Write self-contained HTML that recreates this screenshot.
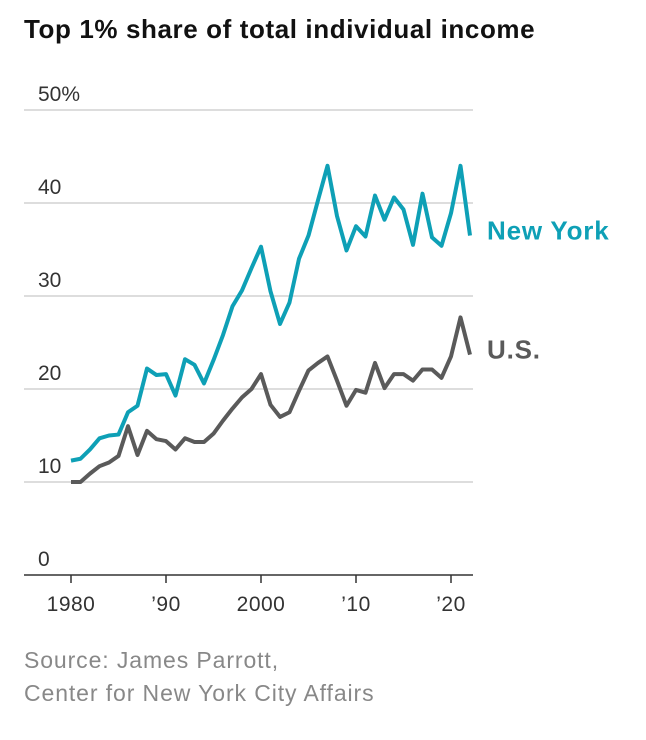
<!DOCTYPE html>
<html><head><meta charset="utf-8"><style>
body{margin:0;background:#fff;width:646px;height:740px;overflow:hidden;font-family:"Liberation Sans",sans-serif}
h1{position:absolute;left:24px;top:14px;margin:0;font-size:26px;font-weight:bold;color:#111;letter-spacing:0.6px}
.src{position:absolute;left:24px;top:644px;font-size:23px;color:#888;line-height:33px;letter-spacing:0.9px}
</style></head><body>
<h1>Top 1% share of total individual income</h1>
<svg id="c" width="646" height="740" style="position:absolute;left:0;top:0"></svg>
<div class="src">Source: James Parrott,<br>Center for New York City Affairs</div>
<script>
const years=[];for(let y=1980;y<=2022;y++)years.push(y);
const nyValues=[12.3,12.5,13.5,14.7,15.0,15.1,17.5,18.2,22.2,21.5,21.6,19.3,23.2,22.6,20.6,23.1,25.8,28.9,30.6,33.0,35.3,30.5,27.0,29.3,34.0,36.5,40.3,44.0,38.6,34.9,37.5,36.4,40.8,38.2,40.6,39.3,35.5,41.0,36.3,35.4,38.9,44.0,36.5];
const usValues=[10.0,10.0,10.9,11.7,12.1,12.8,16.0,12.9,15.5,14.6,14.4,13.5,14.7,14.3,14.3,15.2,16.6,17.9,19.1,20.0,21.6,18.3,17.0,17.5,19.8,22.0,22.8,23.5,20.9,18.2,19.9,19.6,22.8,20.1,21.6,21.6,20.9,22.1,22.1,21.2,23.5,27.7,23.7];
const yTicks=[0,10,20,30,40,50];
const yTickLabels=["0","10","20","30","40","50%"];
const xTicks=[1980,1990,2000,2010,2020];
const xTickLabels=["1980","’90","2000","’10","’20"];
const X=y=>71+(y-1980)*9.5;
const Y=v=>575-v*9.3;
const svg=document.getElementById('c');const NS='http://www.w3.org/2000/svg';
function mk(t,a){const e=document.createElementNS(NS,t);for(const k in a)e.setAttribute(k,a[k]);svg.appendChild(e);return e;}
yTicks.forEach((v,i)=>{
 const l=mk('line',{x1:24,x2:473,y1:Y(v),y2:Y(v),stroke:v===0?'#333':'#ddd','stroke-width':v===0?1.5:2});
 
 
 const t=mk('text',{x:38,y:Y(v)-9,'font-size':21,fill:'#333'});t.textContent=yTickLabels[i];
 
 
});
xTicks.forEach((v,i)=>{
 const l=mk('line',{x1:X(v),x2:X(v),y1:575,y2:583,stroke:'#333','stroke-width':1.5});
 
 
 const t=mk('text',{x:X(v),y:611,'font-size':21,fill:'#333','text-anchor':'middle','letter-spacing':0.5});t.textContent=xTickLabels[i];
 
 
});
function line(vals,col,name){
 const p=mk('polyline',{points:vals.map((v,i)=>X(years[i])+','+Y(v)).join(' '),fill:'none',stroke:col,'stroke-width':4,'stroke-linejoin':'round'});
 
 
}
line(usValues,'#5a5a5a','us-line');
line(nyValues,'#0ea0b6','new-york-line');
const a=mk('text',{x:487,y:Y(nyValues[nyValues.length-1])+4,'font-size':26,'font-weight':'bold',fill:'#0ea0b6','letter-spacing':0.8});a.textContent='New York';


const b=mk('text',{x:487,y:Y(usValues[usValues.length-1])+4,'font-size':26,'font-weight':'bold',fill:'#5a5a5a','letter-spacing':0.8});b.textContent='U.S.';


</script>
</body></html>
